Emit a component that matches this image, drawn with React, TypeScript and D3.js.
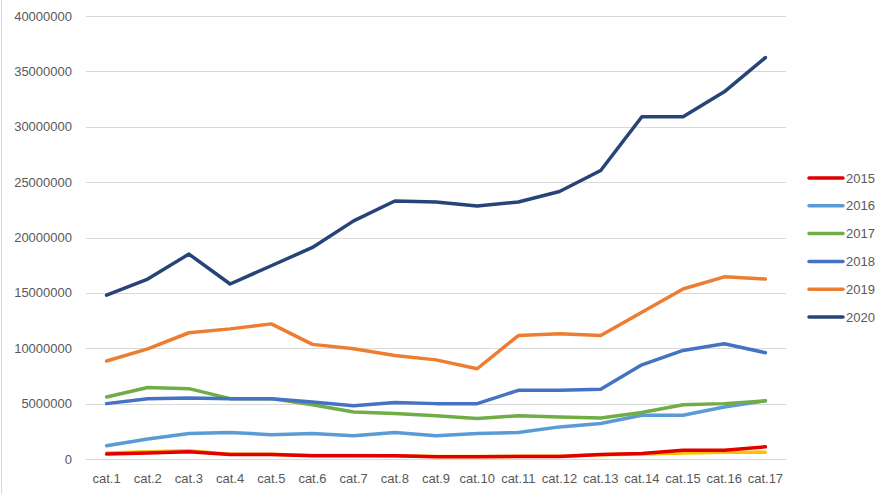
import React, { useEffect, useRef } from 'react';
import * as d3 from 'd3';

const categories = [
  'cat.1', 'cat.2', 'cat.3', 'cat.4', 'cat.5', 'cat.6', 'cat.7', 'cat.8', 'cat.9',
  'cat.10', 'cat.11', 'cat.12', 'cat.13', 'cat.14', 'cat.15', 'cat.16', 'cat.17',
];

const yTicks = [0, 5000000, 10000000, 15000000, 20000000, 25000000, 30000000, 35000000, 40000000];

// series without a legend entry, drawn underneath
const hidden = [550000, 650000, 750000, 420000, 420000, 320000, 320000, 300000, 220000, 220000, 240000, 240000, 380000, 450000, 550000, 600000, 600000];

const s2015 = [450000, 550000, 650000, 400000, 400000, 300000, 300000, 300000, 200000, 200000, 220000, 220000, 400000, 500000, 800000, 800000, 1100000];
const s2016 = [1200000, 1800000, 2300000, 2400000, 2200000, 2300000, 2100000, 2400000, 2100000, 2300000, 2400000, 2900000, 3200000, 3950000, 3950000, 4700000, 5250000];
const s2017 = [5600000, 6450000, 6350000, 5450000, 5450000, 4900000, 4250000, 4100000, 3900000, 3650000, 3900000, 3800000, 3700000, 4200000, 4900000, 5000000, 5250000];
const s2018 = [5000000, 5450000, 5500000, 5450000, 5450000, 5150000, 4800000, 5100000, 5000000, 5000000, 6200000, 6200000, 6300000, 8500000, 9800000, 10400000, 9600000];
const s2019 = [8850000, 9950000, 11400000, 11750000, 12200000, 10350000, 9950000, 9350000, 8950000, 8150000, 11150000, 11300000, 11150000, 13250000, 15350000, 16450000, 16250000];
const s2020 = [14800000, 16250000, 18500000, 15800000, 17450000, 19100000, 21500000, 23300000, 23200000, 22850000, 23200000, 24150000, 26050000, 30900000, 30900000, 33150000, 36250000];

const seriesNames = ['2015', '2016', '2017', '2018', '2019', '2020'];
const seriesValues = [s2015, s2016, s2017, s2018, s2019, s2020];
const seriesColors = ['#E00000', '#5B9BD5', '#70AD47', '#4472C4', '#ED7D31', '#264478'];

export default function App() {
  const svgRef = useRef<SVGSVGElement>(null);
  const width = 893;
  const height = 494;
  const margin = { top: 16, right: 107, bottom: 35, left: 86 };

  useEffect(() => {
    if (!svgRef.current) return;
    const svg = d3.select(svgRef.current);
    svg.selectAll('*').remove();

    const chartWidth = width - margin.left - margin.right;
    const chartHeight = height - margin.top - margin.bottom;
    const font = '"Liberation Sans", Arial, sans-serif';

    svg.append('rect').attr('width', width).attr('height', height).attr('fill', '#fff');

    // left sheet border
    svg.append('line')
      .attr('x1', 1.5).attr('x2', 1.5).attr('y1', 0).attr('y2', height)
      .attr('stroke', '#d9d9d9').attr('stroke-width', 1);

    const g = svg.append('g').attr('transform', `translate(${margin.left},${margin.top})`);

    const xScale = d3.scaleBand<string>().domain(categories).range([0, chartWidth]);
    const yScale = d3.scaleLinear().domain([0, 40000000]).range([chartHeight, 0]);

    // grid lines
    g.append('g')
      .selectAll('line')
      .data(yTicks)
      .enter()
      .append('line')
      .attr('x1', 0)
      .attr('x2', chartWidth)
      .attr('y1', (d) => Math.round(yScale(d)) + 0.5)
      .attr('y2', (d) => Math.round(yScale(d)) + 0.5)
      .attr('stroke', '#d9d9d9')
      .attr('stroke-width', 1);

    // y labels
    g.append('g')
      .selectAll('text')
      .data(yTicks)
      .enter()
      .append('text')
      .attr('x', -14)
      .attr('y', (d) => yScale(d))
      .attr('dy', '0.35em')
      .attr('text-anchor', 'end')
      .attr('fill', '#595959')
      .style('font-family', font)
      .style('font-size', '13px')
      .text((d) => String(d));

    // x labels
    g.append('g')
      .selectAll('text')
      .data(categories)
      .enter()
      .append('text')
      .attr('x', (d) => (xScale(d) ?? 0) + xScale.bandwidth() / 2)
      .attr('y', chartHeight + 24)
      .attr('text-anchor', 'middle')
      .attr('fill', '#595959')
      .style('font-family', font)
      .style('font-size', '13px')
      .text((d) => d);

    const line = d3
      .line<number>()
      .x((_, i) => (xScale(categories[i]) ?? 0) + xScale.bandwidth() / 2)
      .y((d) => yScale(d));

    g.append('path')
      .datum(hidden)
      .attr('fill', 'none')
      .attr('stroke', '#FFC000')
      .attr('stroke-width', 3.5)
      .attr('stroke-linejoin', 'round')
      .attr('stroke-linecap', 'round')
      .attr('d', line);

    seriesValues.forEach((vals, i) => {
      g.append('path')
        .datum(vals)
        .attr('fill', 'none')
        .attr('stroke', seriesColors[i])
        .attr('stroke-width', 3.5)
        .attr('stroke-linejoin', 'round')
        .attr('stroke-linecap', 'round')
        .attr('d', line);
    });

    // legend
    const legend = svg.append('g').attr('transform', 'translate(809,178)');
    seriesNames.forEach((name, i) => {
      const row = legend.append('g').attr('transform', `translate(0,${i * 27.8})`);
      row.append('line')
        .attr('x1', 0).attr('x2', 34).attr('y1', 0).attr('y2', 0)
        .attr('stroke', seriesColors[i])
        .attr('stroke-width', 3.5)
        .attr('stroke-linecap', 'round');
      row.append('text')
        .attr('x', 37)
        .attr('y', 0)
        .attr('dy', '0.35em')
        .attr('fill', '#595959')
        .style('font-family', font)
        .style('font-size', '13px')
        .text(name);
    });
  }, []);

  return (
    <div style={{ position: 'absolute', left: 0, top: 0 }}>
      <svg ref={svgRef} width={width} height={height} style={{ display: 'block' }} />
    </div>
  );
}
